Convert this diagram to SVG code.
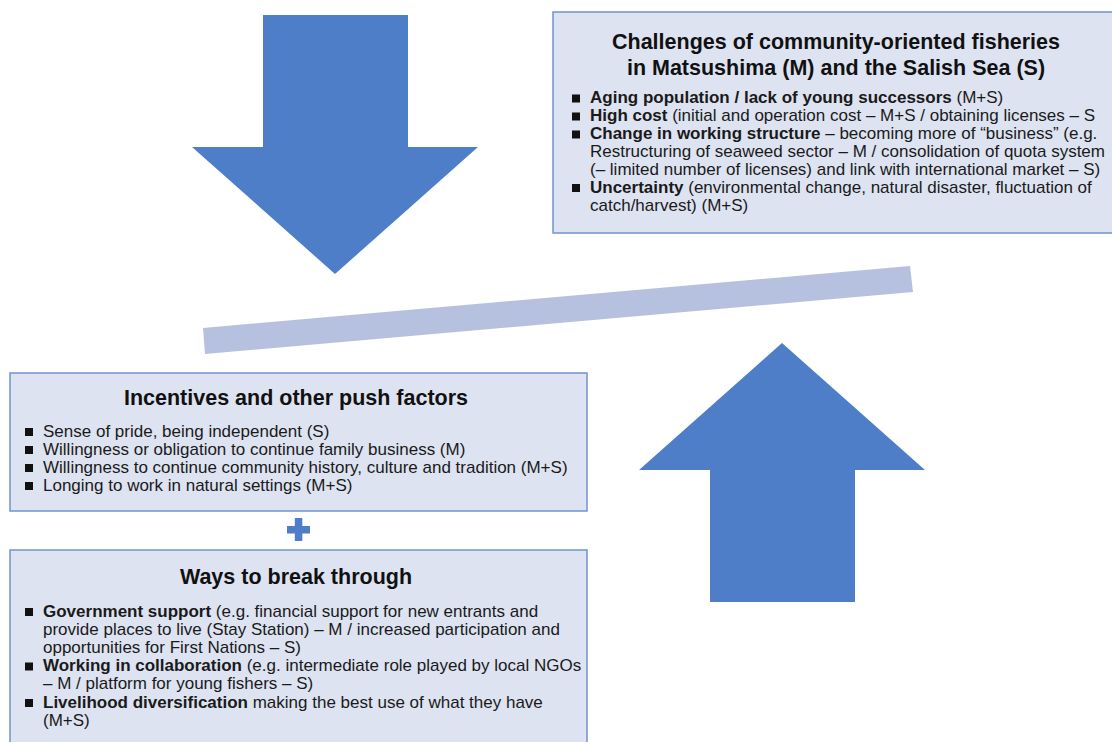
<svg xmlns="http://www.w3.org/2000/svg" width="1112" height="742" viewBox="0 0 1112 742">
  <style>
    .box { fill: #dde3f1; stroke: #7094d2; stroke-width: 1.5; }
    .shape { fill: #4f7ec8; }
    .bar { fill: #b5c1df; }
    .title { font-family: "Liberation Sans", Arial, sans-serif; font-weight: bold; font-size: 21.5px; fill: #111; text-anchor: middle; }
    .body { font-family: "Liberation Sans", Arial, sans-serif; font-size: 17px; fill: #1a1a1a; }
    .b { font-weight: bold; }
    .bullet { fill: #111; }
  </style>
  <rect width="1112" height="742" fill="#ffffff"/>

  <g id="connectors">
    <!-- downward pressure arrow -->
    <polygon class="shape" points="263,15 408,15 408,147 478,147 335,274 192,147 263,147"/>
    <!-- upward support arrow -->
    <polygon class="shape" points="782,343 925,470 855,470 855,602 710,602 710,470 639,470"/>
    <!-- tilted balance beam -->
    <polygon class="bar" points="203,328 910,266 913,292 205,354"/>
    <!-- plus sign between the two lower boxes -->
    <rect class="shape" x="287" y="526" width="23" height="7.5"/>
    <rect class="shape" x="294.8" y="518" width="7.5" height="23"/>
  </g>

  <g id="challenges">
    <rect class="box" x="553" y="12" width="560" height="221"/>
    <text class="title" x="836" y="49">Challenges of community-oriented fisheries</text>
    <text class="title" x="836" y="75">in Matsushima (M) and the Salish Sea (S)</text>
    <rect class="bullet" x="572" y="94.5" width="8" height="8"/>
    <rect class="bullet" x="572" y="112.5" width="8" height="8"/>
    <rect class="bullet" x="572" y="130.5" width="8" height="8"/>
    <rect class="bullet" x="572" y="184" width="8" height="8"/>
    <text class="body" x="590" y="103"><tspan class="b">Aging population / lack of young successors</tspan> (M+S)</text>
    <text class="body" x="590" y="121"><tspan class="b">High cost</tspan> (initial and operation cost – M+S / obtaining licenses – S</text>
    <text class="body" x="590" y="139"><tspan class="b">Change in working structure</tspan> – becoming more of  “business” (e.g.</text>
    <text class="body" x="590" y="157">Restructuring of seaweed sector – M / consolidation of quota system</text>
    <text class="body" x="590" y="174.5">(– limited number of licenses) and link with international market – S)</text>
    <text class="body" x="590" y="192.5"><tspan class="b">Uncertainty</tspan> (environmental change, natural disaster, fluctuation of</text>
    <text class="body" x="590" y="210.5">catch/harvest) (M+S)</text>
  </g>

  <g id="incentives">
    <rect class="box" x="10" y="373" width="577" height="138"/>
    <text class="title" x="296" y="405">Incentives and other push factors</text>
    <rect class="bullet" x="25" y="428" width="8" height="8"/>
    <rect class="bullet" x="25" y="446" width="8" height="8"/>
    <rect class="bullet" x="25" y="464" width="8" height="8"/>
    <rect class="bullet" x="25" y="482" width="8" height="8"/>
    <text class="body" x="43" y="436.5">Sense of pride, being independent (S)</text>
    <text class="body" x="43" y="454.5">Willingness or obligation to continue family business (M)</text>
    <text class="body" x="43" y="472.5">Willingness to continue community history, culture and tradition (M+S)</text>
    <text class="body" x="43" y="490.5">Longing to work in natural settings (M+S)</text>
  </g>

  <g id="breakthrough">
    <rect class="box" x="10" y="550" width="577" height="200"/>
    <text class="title" x="296" y="584">Ways to break through</text>
    <rect class="bullet" x="25" y="608" width="8" height="8"/>
    <rect class="bullet" x="25" y="662.5" width="8" height="8"/>
    <rect class="bullet" x="25" y="699" width="8" height="8"/>
    <text class="body" x="43" y="616.5"><tspan class="b">Government support</tspan> (e.g. financial support for new entrants and</text>
    <text class="body" x="43" y="634.5">provide places to live (Stay Station) – M / increased participation and</text>
    <text class="body" x="43" y="652.5">opportunities for First Nations – S)</text>
    <text class="body" x="43" y="671"><tspan class="b">Working in collaboration</tspan> (e.g. intermediate role played by local NGOs</text>
    <text class="body" x="43" y="689">– M / platform for young fishers – S)</text>
    <text class="body" x="43" y="707.5"><tspan class="b">Livelihood diversification</tspan> making the best use of what they have</text>
    <text class="body" x="43" y="725.5">(M+S)</text>
  </g>
</svg>
